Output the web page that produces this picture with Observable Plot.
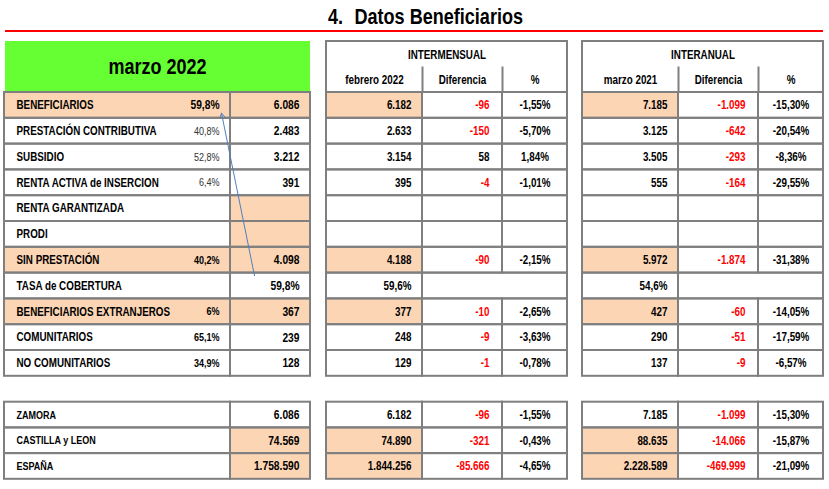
<!DOCTYPE html>
<html>
<head>
<meta charset="utf-8">
<script src="https://cdn.jsdelivr.net/npm/d3@7"></script>
<script src="https://cdn.jsdelivr.net/npm/@observablehq/plot@0.6"></script>
<style>
  html, body { margin: 0; padding: 0; background: #fff; }
  body { width: 829px; height: 489px; position: relative; overflow: hidden;
         font-family: "Liberation Sans", Arial, sans-serif; }
  #title { position: absolute; top: 5px; left: 328px; font-size: 22px; line-height: 24px; font-weight: bold; color: #000;
           white-space: nowrap; transform: scaleX(0.82); transform-origin: 0 0; }
  #title span { margin-left: 14px; }
  #redline { position: absolute; top: 30px; left: 5px; width: 818px; height: 2px; background: #ff0000; }
  #chart { position: absolute; top: 33px; left: 0; }
</style>
</head>
<body>
<div id="title">4.<span>Datos Beneficiarios</span></div>
<div id="redline"></div>
<div id="chart"></div>
<script>
// ---------- DATA ----------
const periodActual = "marzo 2022";
const periodMensual = "febrero 2022";
const periodAnual = "marzo 2021";
const groupHeaders = ["INTERMENSUAL", "INTERANUAL"];
const subHeaders = ["Diferencia", "%"];

const rowLabels = ["BENEFICIARIOS", "PRESTACIÓN CONTRIBUTIVA", "SUBSIDIO", "RENTA ACTIVA de INSERCION",
  "RENTA GARANTIZADA", "PRODI", "SIN PRESTACIÓN", "TASA de COBERTURA",
  "BENEFICIARIOS EXTRANJEROS", "COMUNITARIOS", "NO COMUNITARIOS"];
const shares      = [59.8, 40.8, 52.8, 6.4, null, null, 40.2, null, 6, 65.1, 34.9];
const marzo2022   = [6086, 2483, 3212, 391, null, null, 4098, null, 367, 239, 128];
const febrero2022 = [6182, 2633, 3154, 395, null, null, 4188, null, 377, 248, 129];
const difMensual  = [-96, -150, 58, -4, null, null, -90, null, -10, -9, -1];
const pctMensual  = [-1.55, -5.70, 1.84, -1.01, null, null, -2.15, null, -2.65, -3.63, -0.78];
const marzo2021   = [7185, 3125, 3505, 555, null, null, 5972, null, 427, 290, 137];
const difAnual    = [-1099, -642, -293, -164, null, null, -1874, null, -60, -51, -9];
const pctAnual    = [-15.30, -20.54, -8.36, -29.55, null, null, -31.38, null, -14.05, -17.59, -6.57];
const tasaCobertura = [59.8, 59.6, 54.6]; // marzo 2022, febrero 2022, marzo 2021

const regionLabels   = ["ZAMORA", "CASTILLA y LEON", "ESPAÑA"];
const regMarzo2022   = [6086, 74569, 1758590];
const regFebrero2022 = [6182, 74890, 1844256];
const regDifMensual  = [-96, -321, -85666];
const regPctMensual  = [-1.55, -0.43, -4.65];
const regMarzo2021   = [7185, 88635, 2228589];
const regDifAnual    = [-1099, -14066, -469999];
const regPctAnual    = [-15.30, -15.87, -21.09];

// ---------- STYLE / LAYOUT ----------
const C = { peach: "#fcd5b4", green: "#66ff33", grid: "#7f7f7f", red: "#ff0000", ink: "#000", arrow: "#4f7fbf" };
const L = {
  left: [4, 230, 310], mens: [326, 422, 502, 567], anual: [582, 678, 758, 823],
  headTop: 41, headMid: 66.5, bodyTop: 92, rowH: 25.8, regTop: 401.7, regRowH: 25.7,
  labelX: 16, shareX: 219, valX: 299, valPad: 11, difPad: 13, narrow: 0.82
};
const fullPeachRows = [0, 6, 8];
const valuePeachRows = [4, 5];
const normalShareRows = [1, 2, 3];
const tasaRow = 7;
const regionPeachRows = [1, 2];

const loc = d3.formatLocale({decimal: ",", thousands: ".", grouping: [3], currency: ["", ""], minus: "-"});
const fInt = loc.format(",d");
const fPct2 = v => loc.format(".2f")(v) + "%";
const fPct1 = v => loc.format(".1f")(v) + "%";
const fShare = v => loc.format(".1~f")(v) + "%";

const cells = [];
const texts = [];
const rules = [];

function addText(x, y, text, anchor, size, weight, color) {
  if (text == null || text === "") return;
  texts.push({x, y, text, anchor, size, weight, color: color || C.ink});
}
function negColor(v) { return v < 0 ? C.red : C.ink; }

// header green box
cells.push({x1: L.left[0] + 1, x2: L.left[2], y1: L.headTop, y2: L.bodyTop - 1, fill: C.green, stroke: "none"});
addText((L.left[0] + L.left[2]) / 2, (L.headTop + L.bodyTop) / 2, periodActual, "middle", 22, "bold");

// group headers
[[L.mens, groupHeaders[0], periodMensual], [L.anual, groupHeaders[1], periodAnual]].forEach(([cols, g, p]) => {
  cells.push({x1: cols[0], x2: cols[3], y1: L.headTop, y2: L.bodyTop, fill: "#fff", stroke: C.grid});
  rules.push({x: cols[1], y1: L.headMid, y2: L.bodyTop});
  rules.push({x: cols[2], y1: L.headMid, y2: L.bodyTop});
  addText((cols[0] + cols[3]) / 2, (L.headTop + L.headMid) / 2 + 1, g, "middle", 12, "bold");
  const yy = (L.headMid + L.bodyTop) / 2;
  addText((cols[0] + cols[1]) / 2, yy, p, "middle", 12, "bold");
  addText((cols[1] + cols[2]) / 2, yy, subHeaders[0], "middle", 12, "bold");
  addText((cols[2] + cols[3]) / 2, yy, subHeaders[1], "middle", 12, "bold");
});

function addRow(y1, y2, r) {
  const ym = (y1 + y2) / 2;
  cells.push({x1: L.left[0], x2: L.left[1], y1, y2, fill: r.labelPeach ? C.peach : "#fff", stroke: C.grid});
  cells.push({x1: L.left[1], x2: L.left[2], y1, y2, fill: r.valPeach ? C.peach : "#fff", stroke: C.grid});
  addText(L.labelX, ym, r.label, "start", r.labelSize, "bold");
  if (r.share != null) addText(L.shareX, ym, fShare(r.share), "end", r.shareSize, r.shareWeight, r.shareColor);
  addText(L.valX, ym, r.value, "end", 12.5, "bold");
  [[L.mens, r.m], [L.anual, r.a]].forEach(([cols, d]) => {
    cells.push({x1: cols[0], x2: cols[1], y1, y2, fill: r.firstPeach ? C.peach : "#fff", stroke: C.grid});
    if (r.merged) {
      cells.push({x1: cols[1], x2: cols[3], y1, y2, fill: "#fff", stroke: C.grid});
    } else {
      cells.push({x1: cols[1], x2: cols[2], y1, y2, fill: "#fff", stroke: C.grid});
      cells.push({x1: cols[2], x2: cols[3], y1, y2, fill: "#fff", stroke: C.grid});
    }
    addText(cols[1] - L.valPad, ym, d.v, "end", 12, "bold");
    if (d.dif != null) addText(cols[2] - L.difPad, ym, fInt(d.dif), "end", 12, "bold", negColor(d.dif));
    if (d.pct != null) addText((cols[2] + cols[3]) / 2, ym, fPct2(d.pct), "middle", 12, "bold");
  });
}

rowLabels.forEach((label, i) => {
  const y1 = L.bodyTop + i * L.rowH, y2 = y1 + L.rowH;
  const full = fullPeachRows.includes(i);
  const isTasa = i === tasaRow;
  addRow(y1, y2, {
    label, labelSize: 12,
    labelPeach: full, valPeach: full || valuePeachRows.includes(i), firstPeach: full,
    share: shares[i], shareSize: i === 0 ? 12.5 : 11,
    shareWeight: normalShareRows.includes(i) ? "normal" : "bold",
    shareColor: normalShareRows.includes(i) ? "#333" : C.ink,
    value: isTasa ? fPct1(tasaCobertura[0]) : (marzo2022[i] == null ? null : fInt(marzo2022[i])),
    merged: isTasa,
    m: {v: isTasa ? fPct1(tasaCobertura[1]) : (febrero2022[i] == null ? null : fInt(febrero2022[i])), dif: difMensual[i], pct: pctMensual[i]},
    a: {v: isTasa ? fPct1(tasaCobertura[2]) : (marzo2021[i] == null ? null : fInt(marzo2021[i])), dif: difAnual[i], pct: pctAnual[i]}
  });
});

regionLabels.forEach((label, i) => {
  const y1 = L.regTop + i * L.regRowH, y2 = y1 + L.regRowH;
  const pk = regionPeachRows.includes(i);
  addRow(y1, y2, {
    label, labelSize: 11, labelPeach: false, valPeach: pk, firstPeach: pk,
    share: null, value: fInt(regMarzo2022[i]), merged: false,
    m: {v: fInt(regFebrero2022[i]), dif: regDifMensual[i], pct: regPctMensual[i]},
    a: {v: fInt(regMarzo2021[i]), dif: regDifAnual[i], pct: regPctAnual[i]}
  });
});

// connector arrow: from TASA de COBERTURA value up to BENEFICIARIOS share
const arrowData = [{
  x1: L.left[1] + 24, y1: L.bodyTop + (tasaRow + 0.1) * L.rowH,
  x2: L.shareX + 2, y2: L.bodyTop + 0.8 * L.rowH
}];

const textGroups = d3.groups(texts, d => `${d.anchor}|${d.size}|${d.weight}`);

const chart = Plot.plot({
  width: 829, height: 456,
  margin: 0,
  x: {type: "linear", domain: [0, 829], range: [0, 829], axis: null},
  y: {type: "linear", domain: [33, 489], range: [0, 456], axis: null},
  color: {type: "identity"},
  style: {fontFamily: '"Liberation Sans", Arial, sans-serif', background: "#fff", overflow: "visible"},
  marks: [
    Plot.rect(cells, {x1: "x1", x2: "x2", y1: "y1", y2: "y2", fill: "fill", inset: 0}),
    Plot.rect(cells.filter(d => d.stroke !== "none"), {x1: "x1", x2: "x2", y1: "y1", y2: "y2", fill: null, stroke: C.grid, strokeWidth: 2, inset: 0}),
    Plot.ruleX(rules, {x: "x", y1: "y1", y2: "y2", stroke: C.grid, strokeWidth: 2}),
    ...textGroups.map(([key, arr]) => {
      const [anchor, size, weight] = key.split("|");
      return Plot.text(arr, {x: "x", y: "y", text: "text", fill: "color", textAnchor: anchor, fontSize: +size, fontWeight: weight});
    }),
    Plot.arrow(arrowData, {x1: "x1", y1: "y1", x2: "x2", y2: "y2", stroke: C.arrow, strokeWidth: 1, headLength: 7})
  ]
});
// narrow (Arial Narrow–like) rendering: compress each text horizontally around its own anchor point
d3.select(chart).selectAll("text").each(function() {
  const t = this.getAttribute("transform") || "";
  this.setAttribute("transform", `${t} scale(${L.narrow},1)`);
});
document.getElementById("chart").appendChild(chart);
</script>
</body>
</html>
